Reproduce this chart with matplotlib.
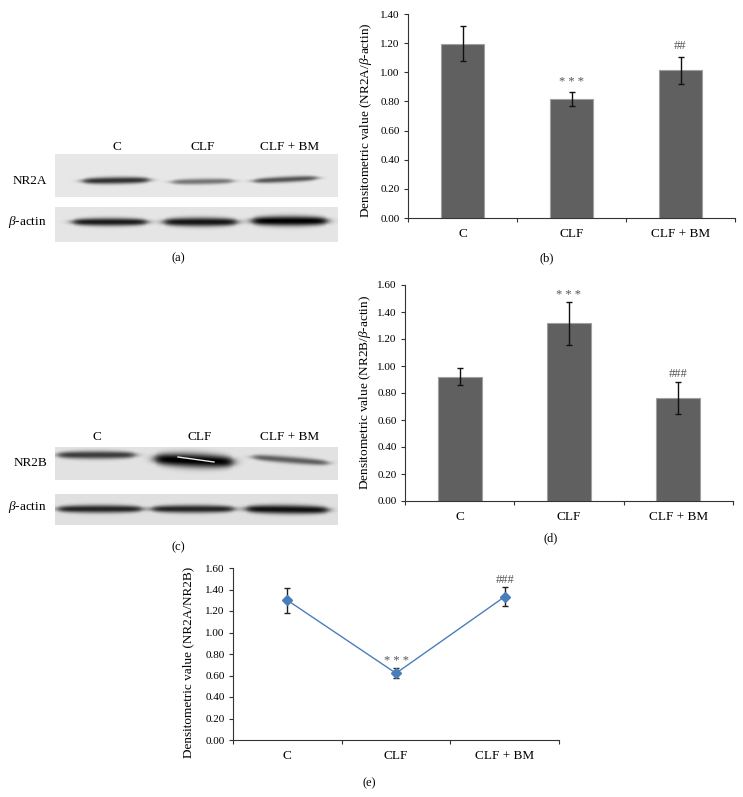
import numpy as np
import matplotlib
matplotlib.use("Agg")
import matplotlib.pyplot as plt

plt.rcParams['font.family'] = ['Liberation Serif', 'DejaVu Serif']
plt.rcParams['mathtext.fontset'] = 'custom'
plt.rcParams['mathtext.rm'] = 'Liberation Serif'
plt.rcParams['mathtext.it'] = 'Liberation Serif:italic'

# --- Data ---
groups = ['C', 'CLF', 'CLF + BM']

nr2a_mean = [1.195, 0.815, 1.015]
nr2a_err = [0.12, 0.047, 0.092]
nr2a_marks = ['', '* * *', '##']

nr2b_mean = [0.92, 1.315, 0.765]
nr2b_err = [0.063, 0.16, 0.118]
nr2b_marks = ['', '* * *', '###']

ratio_mean = [1.30, 0.621, 1.333]
ratio_err = [0.115, 0.047, 0.088]
ratio_marks = ['', '* * *', '###']

# blot bands: (x start, x end, y centre left, y centre right, thickness, darkness)
nr2a_bands = [(83, 149, 181, 180, 7, 0.72), (172, 233, 182, 181, 6, 0.45),
              (254, 317, 181, 178, 6, 0.58)]
actin_a_bands = [(73, 147, 222, 222, 8, 0.8), (164, 237, 222, 222, 9, 0.82),
                 (252, 327, 221, 221, 10, 0.9)]
nr2b_bands = [(58, 135, 455, 455, 8, 0.66), (155, 233, 459, 462, 14, 0.9),
              (253, 328, 457, 463, 7, 0.52)]
actin_c_bands = [(58, 142, 509, 509, 8, 0.74), (152, 234, 509, 509, 8, 0.74),
                 (246, 328, 509, 510, 9, 0.82)]

W, H = 743, 797
fig = plt.figure(figsize=(W / 100, H / 100), dpi=100)
fig.patch.set_facecolor('white')

# overlay in pixel coordinates for blots and free text
ov = fig.add_axes([0, 0, 1, 1])
ov.axis('off')


def blot(box, bands, bg):
    x0, y0, x1, y1 = box
    s = 3
    nx, ny = int((x1 - x0) * s), int((y1 - y0) * s)
    X, Y = np.meshgrid(x0 + (np.arange(nx) + 0.5) / s,
                       y0 + (np.arange(ny) + 0.5) / s)
    img = np.full(X.shape, bg)
    for bx0, bx1, yl, yr, th, dark in bands:
        t = np.clip((X - bx0) / (bx1 - bx0), 0, 1)
        yc = yl + (yr - yl) * t
        h = 1 / (1 + np.exp(-(X - bx0) / 3.0)) / (1 + np.exp((X - bx1) / 3.0))
        thk = th * (0.6 + 0.4 * np.sin(np.pi * t) ** 0.5)
        v = np.exp(-np.abs((Y - yc) / (thk / 2)) ** 2.2)
        img -= dark * h * v
    ov.imshow(img, cmap='gray', vmin=0, vmax=1, extent=(x0, x1, y1, y0),
              interpolation='bilinear', aspect='auto')


blot((55, 154, 338, 197), nr2a_bands, 0.91)
blot((55, 207, 338, 242), actin_a_bands, 0.90)
blot((55, 447, 338, 480), nr2b_bands, 0.89)
blot((55, 494, 338, 525), actin_c_bands, 0.88)
ov.plot([178, 214], [457, 462], color='white', lw=1.0, alpha=0.9)
ov.set_xlim(0, W)
ov.set_ylim(H, 0)

fs = 9.5
for x, g in zip([117, 203, 290], groups):
    ov.text(x, 147, g, ha='center', va='center', fontsize=fs)
for x, g in zip([97, 200, 290], groups):
    ov.text(x, 437, g, ha='center', va='center', fontsize=fs)
ov.text(47, 181, 'NR2A', ha='right', va='center', fontsize=fs)
ov.text(47, 222, r'$\beta$-actin', ha='right', va='center', fontsize=fs)
ov.text(47, 463, 'NR2B', ha='right', va='center', fontsize=fs)
ov.text(47, 507, r'$\beta$-actin', ha='right', va='center', fontsize=fs)
for x, y, lab in [(178, 258, '(a)'), (547, 258, '(b)'), (178, 547, '(c)'),
                  (551, 538, '(d)'), (369, 783, '(e)')]:
    ov.text(x, y, lab, ha='center', va='center', fontsize=9)


def px_axes(left, top, right, bottom):
    return fig.add_axes([left / W, 1 - bottom / H, (right - left) / W,
                         (bottom - top) / H])


def style(ax, ymax, ylabel):
    ax.set_xlim(-0.5, 2.5)
    ax.set_ylim(0, ymax)
    ax.set_yticks(np.arange(0, ymax + 0.01, 0.2))
    ax.set_yticklabels([f'{v:.2f}' for v in np.arange(0, ymax + 0.01, 0.2)])
    ax.set_xticks([-0.5, 0.5, 1.5, 2.5])
    ax.set_xticklabels([])
    ax.set_xticks([0, 1, 2], minor=True)
    ax.set_xticklabels(groups, minor=True, fontsize=fs)
    ax.tick_params(axis='x', which='minor', length=0, pad=7)
    ax.tick_params(axis='x', which='major', direction='out', length=3,
                   width=0.8, color='#333333')
    ax.tick_params(axis='y', direction='out', length=3, width=0.8,
                   color='#333333', labelsize=8, pad=3)
    for sp in ['top', 'right']:
        ax.spines[sp].set_visible(False)
    for sp in ['left', 'bottom']:
        ax.spines[sp].set_color('#333333')
        ax.spines[sp].set_linewidth(0.8)
    ax.set_facecolor('none')
    ax.set_ylabel(ylabel, fontsize=fs)


x = np.arange(len(groups))

# (b)
axb = px_axes(408, 14, 735, 218)
axb.bar(x, nr2a_mean, width=0.4, color='#606060', edgecolor='#a0a0a0',
        linewidth=0.8)
axb.errorbar(x, nr2a_mean, yerr=nr2a_err, fmt='none', ecolor='#111111',
             elinewidth=1, capsize=2.2, capthick=1)
style(axb, 1.4, 'Densitometric value (NR2A/$\\beta$-actin)')
axb.yaxis.set_label_coords(-0.105, 0.48)
for xi, m, e, mk in zip(x, nr2a_mean, nr2a_err, nr2a_marks):
    axb.text(xi, m + e + 0.03, mk, ha='center', va='bottom', fontsize=9,
             color='#555555')

# (d)
axd = px_axes(405, 285, 733, 501)
axd.bar(x, nr2b_mean, width=0.4, color='#606060', edgecolor='#a0a0a0',
        linewidth=0.8)
axd.errorbar(x, nr2b_mean, yerr=nr2b_err, fmt='none', ecolor='#111111',
             elinewidth=1, capsize=2.2, capthick=1)
style(axd, 1.6, 'Densitometric value (NR2B/$\\beta$-actin)')
axd.yaxis.set_label_coords(-0.098, 0.5)
for xi, m, e, mk in zip(x, nr2b_mean, nr2b_err, nr2b_marks):
    axd.text(xi, m + e + 0.01, mk, ha='center', va='bottom', fontsize=9,
             color='#555555')

# (e)
axe = px_axes(233, 568, 559, 740)
axe.errorbar(x, ratio_mean, yerr=ratio_err, fmt='none', ecolor='#222222',
             elinewidth=1, capsize=2.2, capthick=1, zorder=2)
axe.plot(x, ratio_mean, color='#4a7ebb', lw=1, marker='D', markersize=5.5,
         zorder=3)
style(axe, 1.6, 'Densitometric value (NR2A/NR2B)')
axe.yaxis.set_label_coords(-0.12, 0.45)
for xi, m, e, mk in zip(x, ratio_mean, ratio_err, ratio_marks):
    axe.text(xi, m + e + 0.01, mk, ha='center', va='bottom', fontsize=9,
             color='#555555')

fig.savefig('out.png', dpi=100)
